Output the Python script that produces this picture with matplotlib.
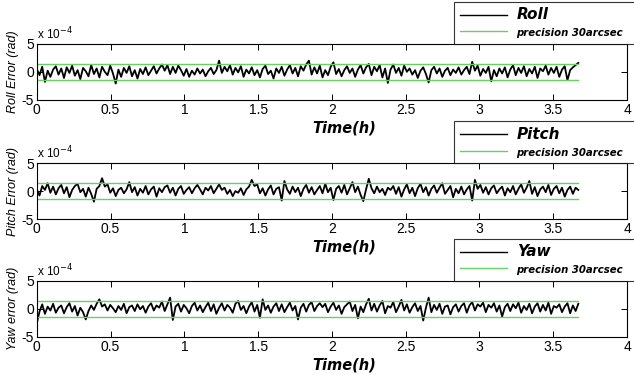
import numpy as np
import matplotlib
matplotlib.use('Agg')
import matplotlib.pyplot as plt
from matplotlib.ticker import FuncFormatter

# attitude errors (units of 1e-4 rad)
roll = [0.5, -0.6, 0.9, -1.8, 0.2, -0.9, 0.4, 1.0, -0.5, 0.6, -1.1, 0.8, -0.2, 1.1, -0.7, 0.3, -1.3, 0.7, 0.1, -0.8,
        1.2, -0.4, 0.6, -1.0, 0.9, 0.0, -0.6, 1.1, -0.3, -2.1, 0.4, -0.9, 0.7, -0.2, 1.0, -0.8, 0.3, -1.2, 0.5, -0.4,
        0.8, -0.6, 0.2, 1.0, -0.3, 0.6, 1.3, 0.2, 1.2, -0.4, 0.9, -0.2, 1.1, 0.3, -0.7, 0.5, -0.9, 0.2, -0.5, 0.6,
        -0.3, 0.4, -0.8, 0.1, 0.7, -0.4, 0.3, 2.0, -0.2, 0.9, 0.1, 1.2, -0.5, 0.7, -0.1, 1.0, -0.9, 0.4, -0.3, 0.8,
        -0.6, 0.3, -1.0, 0.5, 1.1, -0.4, 0.2, -1.2, 0.6, -0.2, 0.9, -0.7, 0.4, 1.2, -0.3, 0.7, -0.8, 1.0, 0.2, 1.3,
        2.0, -0.5, 0.8, -0.3, 1.1, -1.0, 0.3, -0.6, 0.9, 1.7, -0.4, 0.5, -0.8, 0.3, 1.0, -0.2, 0.6, -0.9, 0.4, 1.2,
        -0.3, 0.8, 1.4, -0.6, 0.9, 0.1, 1.2, -1.0, 0.6, -2.0, 0.4, 1.3, -0.2, 0.7, -0.7, 1.1, 0.0, 0.6, -0.5, 0.3,
        -1.1, 0.2, 0.8, -0.4, -1.9, 0.3, 0.9, -0.3, 0.6, -0.9, 0.2, 0.7, -0.6, 0.4, -0.2, 0.8, -0.5, 0.3, 0.9, -0.4,
        1.8, 0.2, 1.1, -0.7, 0.5, -0.2, 0.9, -1.7, 0.3, -0.8, 0.6, -0.3, 0.8, -1.0, 0.4, 1.2, -0.6, 0.7, -0.2, 1.0,
        -0.8, 0.5, -0.3, 0.9, -1.1, 0.6, 0.1, 1.1, -0.5, 0.7, -0.2, 0.9, -0.9, 0.4, 1.0, -1.5, 0.3, 0.8, 1.2, 1.6]

pitch = [0.3, -0.8, 0.9, 0.2, 1.4, -0.3, 0.8, -0.6, 0.5, 1.1, -0.4, 0.7, -1.1, 0.2, 0.9, 1.3, -0.2, 0.4, -1.0, 0.6,
         -0.5, -1.9, 0.4, 0.9, 2.3, 0.8, 1.2, -0.3, 0.5, -0.9, 0.2, 0.6, -0.4, 0.3, 1.6, -0.2, 0.7, -0.8, 0.4, -0.3,
         0.9, -0.6, 0.3, 0.8, -1.0, 0.5, -0.2, 0.7, 1.0, -0.3, 0.6, -0.8, 0.4, 0.9, -0.5, 0.2, 0.7, -0.4, 0.5, 1.1,
         0.3, -0.6, 0.6, 0.1, 0.9, -0.4, 0.4, 1.2, 0.2, 0.6, -0.5, 0.2, -0.9, 0.0, -0.3, 0.5, -0.7, 0.3, 0.8, 2.0,
         0.9, 1.2, -0.4, 0.5, -0.8, 0.3, 1.0, -0.6, 0.4, 0.7, -1.7, 1.8, 0.3, -0.5, 0.8, -0.2, 0.6, -0.9, 0.4, 1.1,
         -0.3, 0.7, -0.6, 0.2, 0.9, -0.4, 1.3, -0.2, 0.6, -1.6, 0.4, 0.9, -0.3, 1.1, -0.6, 0.5, 1.6, -0.2, 0.8, -0.7,
         -1.8, 0.3, 2.2, 0.5, -0.4, 0.8, -0.2, 0.4, -0.7, 0.6, 0.2, 0.9, -0.5, 0.7, -1.0, 0.3, 1.2, -0.4, 0.6, -0.9,
         0.5, 1.3, -0.2, 0.7, -0.8, 0.4, 1.0, -0.3, 0.6, 1.4, -0.5, 0.2, 0.9, -1.1, 0.4, -0.4, 0.8, -0.6, 0.3, 0.9,
         -1.7, 2.0, 0.4, 1.1, -0.3, 0.7, -0.6, 0.5, 1.0, -0.4, 0.3, 0.8, -0.8, 0.5, -0.2, 0.9, -0.6, 0.4, 1.2, -0.3,
         0.6, 1.8, -0.5, 0.7, -0.9, 0.3, 0.8, -0.2, 1.1, -0.7, 0.4, 0.9, -0.4, 0.6, -1.0, 0.2, 0.8, -0.5, 0.6, 0.2]

yaw = [-2.6, -0.5, 0.8, -0.9, 0.4, -0.3, 0.9, -0.7, 0.2, 0.6, -0.8, 0.3, 1.0, -0.5, 0.5, -1.2, 0.2, -0.6, -1.9, -0.4,
       0.6, -0.2, 0.9, 1.7, 0.4, 0.8, -0.3, 0.7, 0.1, -0.6, 0.5, -0.2, 0.9, -0.8, 0.3, 0.6, -0.4, 0.8, -0.1, 0.5,
       -0.7, 0.4, 1.0, -0.3, 0.6, 0.2, 1.3, -0.4, 0.8, 2.0, -2.0, 0.4, 0.9, -0.5, 0.7, 0.1, -0.8, 0.5, 1.1, -0.3,
       0.6, -0.6, 0.3, 1.1, -0.4, 0.8, -0.9, 0.2, 1.0, -0.3, 0.7, 0.2, -0.7, 0.9, 1.4, -0.2, 0.5, -0.8, 0.4, 1.2,
       -0.5, 0.7, -1.6, 1.7, -0.2, 0.6, -0.7, 0.4, 1.0, -0.4, 0.8, -0.6, 0.3, 1.1, -0.3, 0.5, -1.9, 0.2, 0.9, -0.5,
       0.7, 1.2, -0.4, 0.5, 1.0, 0.3, 0.9, -0.6, 0.4, 1.1, -0.2, 0.6, -0.9, 0.3, 0.8, 1.3, -0.4, 0.7, -1.7, 0.4,
       -0.6, 0.8, 1.8, -0.3, 0.9, -0.5, 0.6, 1.4, -0.8, 0.5, 0.2, 1.2, -0.6, 0.4, 1.6, -0.3, 0.8, -0.7, 0.3, 1.0,
       -0.4, 0.5, -2.1, 0.2, 2.0, -0.6, 0.7, -0.2, 0.9, -0.9, 0.4, 0.6, -1.0, 0.3, 0.8, -0.5, 0.5, 1.0, -0.7, 0.6,
       1.2, -0.3, 0.8, 0.4, 1.1, -0.6, 0.7, 0.2, 1.0, -0.5, 0.6, -1.4, 0.3, 0.9, -0.4, 0.8, 0.1, 1.1, -0.7, 0.5,
       -0.2, 0.9, -0.8, 0.4, 1.0, -0.5, 0.7, -0.3, 1.1, -0.9, 0.5, 0.2, 0.8, -0.6, 0.4, 1.0, -0.8, 0.6, -0.4, 0.9]

t_end = 3.67           # hours
precision_arcsec = 30
names = ['Roll', 'Pitch', 'Yaw']
ylabels = ['Roll Error (rad)', 'Pitch Error (rad)', 'Yaw error (rad)']
series = [roll, pitch, yaw]

prec = precision_arcsec / 206265.0   # rad
green = '#66d066'

plt.rcParams['font.family'] = ['Liberation Sans', 'DejaVu Sans']

fig = plt.figure(figsize=(6.34, 3.75), dpi=100)
# axes boxes in figure fractions
tops = [0.883, 0.565, 0.251]
h = 0.149

for i in range(3):
    ax = fig.add_axes([0.058, tops[i] - h, 0.931, h])
    err = np.array(series[i]) * 1e-4
    t = np.linspace(0, t_end, len(err))
    ax.plot(t, err, color='black', lw=1.3, label=names[i])
    ax.plot([0, t_end], [prec, prec], color=green, lw=1.0, label='precision 30arcsec')
    ax.plot([0, t_end], [-prec, -prec], color=green, lw=1.0)

    ax.set_xlim(0, 4)
    ax.set_ylim(-5e-4, 5e-4)
    ax.set_xticks(np.arange(0, 4.01, 0.5))
    ax.set_xticklabels(['0', '0.5', '1', '1.5', '2', '2.5', '3', '3.5', '4'])
    ax.set_yticks([-5e-4, 0, 5e-4])
    ax.yaxis.set_major_formatter(FuncFormatter(lambda v, p: '%g' % round(v * 1e4)))
    ax.tick_params(direction='in', top=True, right=True, length=4, width=0.7,
                   labelsize=10, pad=2, colors='black')
    for s in ax.spines.values():
        s.set_linewidth(0.8)

    ax.text(0.0, 1.03, r'x 10$^{-4}$', transform=ax.transAxes, fontsize=8.5,
            ha='left', va='bottom')
    ax.set_ylabel(ylabels[i], fontsize=9, style='italic')
    ax.yaxis.set_label_coords(-0.03, 0.5)
    ax.set_xlabel('Time(h)', fontsize=10.5, fontweight='bold', style='italic',
                  family='DejaVu Sans')
    ax.xaxis.set_label_coords(0.52, -0.37)

    leg = ax.legend(loc='lower left', bbox_to_anchor=(0.707, 1.0, 0.33, 0.5),
                    mode='expand', frameon=True,
                    fancybox=False, handlelength=3.4, borderpad=0.4,
                    labelspacing=0.3, borderaxespad=0.0, handletextpad=0.7,
                    prop={'family': 'DejaVu Sans'})
    leg.get_frame().set_edgecolor('black')
    leg.get_frame().set_linewidth(0.8)
    for line in leg.get_lines():
        line.set_linewidth(1.0)
    txts = leg.get_texts()
    txts[0].set_fontsize(11)
    txts[0].set_fontweight('bold')
    txts[0].set_style('italic')
    txts[1].set_fontsize(7.3)
    txts[1].set_fontweight('bold')
    txts[1].set_style('italic')

fig.savefig('out.png', dpi=100)
